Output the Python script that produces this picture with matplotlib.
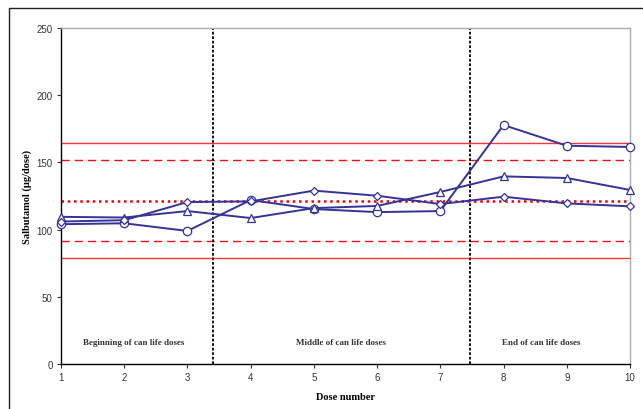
import numpy as np
import matplotlib.pyplot as plt
from matplotlib.patches import Rectangle

doses = [1, 2, 3, 4, 5, 6, 7, 8, 9, 10]
circle_vals = [104, 104.7, 99, 122, 115.3, 113, 113.8, 177.8, 162.4, 161.5]
triangle_vals = [109.5, 109, 113.8, 108.6, 116, 117.6, 128, 139.6, 138.4, 129.5]
diamond_vals = [106, 107, 120.5, 121, 129, 125.2, 119, 124.5, 119.5, 117.3]

target = 121.5
limits_inner = [91.3, 151.6]
limits_outer = [79.2, 164.2]
section_breaks = [3.4, 7.47]
section_labels = ["Beginning of can life doses", "Middle of can life doses", "End of can life doses"]
section_label_x = [2.15, 5.43, 8.6]

navy = "#333399"

fig = plt.figure(figsize=(6.43, 4.10), dpi=100)
ax = fig.add_axes([61 / 643, 1 - 365 / 410, (630 - 61) / 643, (365 - 29) / 410])

# reference limits
for v in limits_outer:
    ax.axhline(v, color="#ff3333", lw=1.0, zorder=1)
for v in limits_inner:
    ax.axhline(v, color="#ee1111", lw=1.0, ls=(0, (6, 3.5)), zorder=1)
ax.axhline(target, color="#ee0000", lw=1.8, ls=(0, (1, 1.5)), zorder=1)

for xb in section_breaks:
    ax.axvline(xb, color="black", lw=1.3, ls=(0, (1.5, 1)), zorder=2)

mk = dict(color=navy, lw=1.4, markerfacecolor="white", markeredgecolor=navy,
          markeredgewidth=0.9, zorder=3, clip_on=False)
ax.plot(doses, circle_vals, marker="o", markersize=6, **mk)
ax.plot(doses, triangle_vals, marker="^", markersize=5.5, **mk)
ax.plot(doses, diamond_vals, marker="D", markersize=4, **mk)

for lbl, xl in zip(section_labels, section_label_x):
    ax.text(xl, 16, lbl, ha="center", va="center", fontsize=6.5,
            family="Liberation Serif", weight="bold", color="#333333")

ax.set_xlim(1, 10)
ax.set_ylim(0, 250)
ax.set_xticks(doses)
ax.set_yticks(np.arange(0, 251, 50))
ax.tick_params(labelsize=7, length=3, width=0.8, colors="#333333", pad=3)
for lab in ax.get_xticklabels() + ax.get_yticklabels():
    lab.set_family("Liberation Sans")
ax.spines["top"].set_color("#aaaaaa")
ax.spines["right"].set_color("#aaaaaa")
ax.spines["left"].set_color("black")
ax.spines["bottom"].set_color("black")
for s in ax.spines.values():
    s.set_linewidth(1.0)

ax.set_xlabel("Dose number", family="Liberation Serif", weight="bold", fontsize=7.5, labelpad=7)
ax.set_ylabel("Salbutamol (\u00b5g/dose)", family="Liberation Serif", weight="bold", fontsize=7.5, labelpad=3)

# outer chart frame
fig.patches.append(Rectangle((9 / 643, -0.1), 1.0, 1.1 - 9 / 410, transform=fig.transFigure,
                             fill=False, edgecolor="#222222", lw=1.0))

fig.savefig("out.png", dpi=100)
